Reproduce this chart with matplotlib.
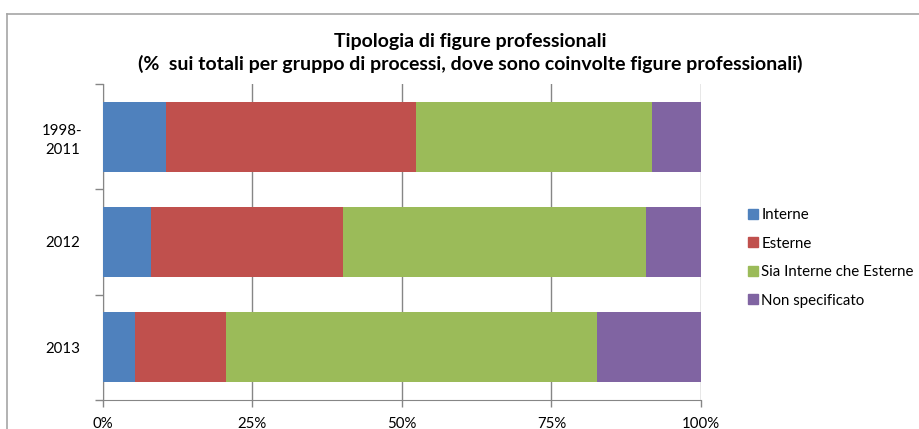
import matplotlib
matplotlib.use("Agg")
import matplotlib.pyplot as plt
from matplotlib.lines import Line2D

categories = ["1998-\n2011", "2012", "2013"]
series_names = ["Interne", "Esterne", "Sia Interne che Esterne", "Non specificato"]
interne = [10.5, 8.1, 5.4]
esterne = [41.9, 32.1, 15.2]
sia = [39.4, 50.6, 62.0]
non_spec = [8.2, 9.2, 17.4]
xticks = [0, 25, 50, 75, 100]
xtick_labels = ["0%", "25%", "50%", "75%", "100%"]
colors = ["#4F81BD", "#C0504D", "#9BBB59", "#8064A2"]

plt.rcParams['font.family'] = ['Lato', 'DejaVu Sans']

W, H = 920, 429
fig = plt.figure(figsize=(W / 100, H / 100), dpi=100)

# chart frame (top and left edges visible)
fx, fy = 7 / W, 1 - 14 / H
fig.add_artist(Line2D([fx, fx], [0, fy], transform=fig.transFigure, color="#A6A6A6", linewidth=1.2))
fig.add_artist(Line2D([fx, 1], [fy, fy], transform=fig.transFigure, color="#A6A6A6", linewidth=1.2))

ax = fig.add_axes([102.7 / W, 1 - 400 / H, (701 - 102.7) / W, (400 - 84) / H])

ypos = list(range(len(categories)))
left = [0.0] * len(categories)
for vals, col, name in zip([interne, esterne, sia, non_spec], colors, series_names):
    ax.barh(ypos, vals, left=left, height=0.667, color=col, label=name, zorder=3)
    left = [l + v for l, v in zip(left, vals)]

ax.set_xlim(0, 100)
ax.set_ylim(len(categories) - 0.5, -0.5)
ax.set_xticks(xticks)
ax.set_xticklabels(xtick_labels, fontsize=10.8)
ax.grid(axis="x", color="#868686", linewidth=1, zorder=0)
ax.tick_params(axis="x", length=5, color="#868686", width=1, pad=7)

ax.set_yticks([i - 0.5 for i in range(len(categories) + 1)])
ax.set_yticklabels([""] * (len(categories) + 1))
ax.tick_params(axis="y", which="major", length=6, color="#868686", width=1)
ax.set_yticks(ypos, minor=True)
ax.set_yticklabels(categories, minor=True, fontsize=10.8, ha="center", linespacing=1.45)
ax.tick_params(axis="y", which="minor", length=0, pad=29)

for s in ["top", "right"]:
    ax.spines[s].set_visible(False)
ax.spines["left"].set_color("#868686")
ax.spines["bottom"].set_color("#868686")
ax.set_axisbelow(True)

fig.text(470 / W, 1 - 41 / H, "Tipologia di figure professionali", ha="center", va="center",
         fontsize=14, fontweight="bold")
fig.text(470 / W, 1 - 64 / H,
         "(%  sui totali per gruppo di processi, dove sono coinvolte figure professionali)",
         ha="center", va="center", fontsize=14, fontweight="bold")

handles = [Line2D([], [], marker="s", linestyle="none", markersize=7.5, markerfacecolor=c,
                  markeredgecolor=c) for c in colors]
fig.legend(handles, series_names, loc="upper left", bbox_to_anchor=(747 / W, 1 - 208 / H),
           frameon=False, fontsize=10.8, handlelength=0.8, handletextpad=0.15,
           labelspacing=0.97, borderpad=0, borderaxespad=0)

fig.savefig("out.png", dpi=100)
